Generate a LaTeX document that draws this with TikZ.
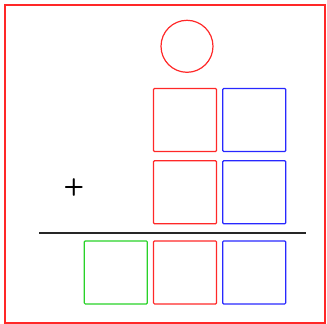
\documentclass[tikz,border=0pt]{standalone}
\usepackage{tikz}
\usetikzlibrary{positioning}
\definecolor{digred}{RGB}{255,40,40}
\definecolor{digblue}{RGB}{40,40,255}
\definecolor{diggreen}{RGB}{40,210,40}

\begin{document}
\begin{tikzpicture}[x=1pt, y=-1pt, node distance=5pt,
  sq/.style={rectangle, rounded corners=1pt, line width=1.2pt,
             minimum size=63pt, inner sep=0pt},
  rsq/.style={sq, draw=digred},
  bsq/.style={sq, draw=digblue},
  gsq/.style={sq, draw=diggreen}]
  \useasboundingbox (0,0) rectangle (327,324);
  \draw[digred, line width=1.6pt] (5,5) rectangle (325,323);
  % top two rows
  \node[rsq] (r1) at (185,120) {};
  \node[bsq, right=5pt of r1] (b1) {};
  \node[circle, draw=digred, line width=1.2pt, minimum size=52pt,
        inner sep=0pt, above=15pt of r1, xshift=2pt] (carry) {};
  \node[rsq, below=8pt of r1] (r2) {};
  \node[bsq, right=5pt of r2] (b2) {};
  \node[font=\fontsize{24}{24}\selectfont\sffamily\bfseries, inner sep=0pt] (plus) at (74,187) {+};
  % sum line
  \coordinate (sl) at (39,233);
  \coordinate (sr) at (306,233);
  \draw[line width=1.8pt, black!85] (sl) -- (sr);
  % result row
  \node[rsq, below=16pt of r2] (r3) {};
  \node[bsq, right=5pt of r3] (b3) {};
  \node[gsq, left=5pt of r3] (g3) {};
\end{tikzpicture}
\end{document}
